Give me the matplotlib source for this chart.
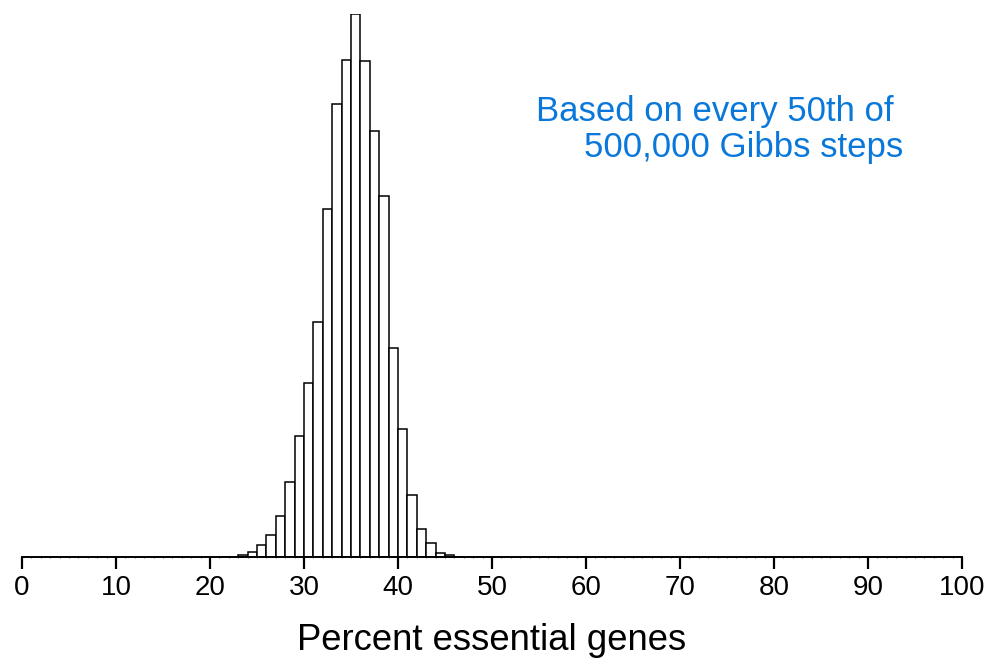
import matplotlib
matplotlib.use("Agg")
import matplotlib.pyplot as plt
from matplotlib.ticker import MultipleLocator

plt.rcParams["font.family"] = ["Liberation Sans", "DejaVu Sans"]

# Histogram of sampled percentages (bin left edges, width 1)
bin_left = list(range(21, 47))
counts = [1, 1, 5, 11, 28, 52, 97, 175, 283, 409, 551, 817, 1064,
          1167, 1275, 1164, 1000, 848, 491, 300, 145, 66, 34, 9, 4, 1]

x_ticks = list(range(0, 101, 10))
x_label = "Percent essential genes"
note = "Based on every 50th of \n500,000 Gibbs steps"

fig = plt.figure(figsize=(9.91, 6.62), dpi=100)
ax = fig.add_axes([22 / 991, 1 - 557 / 662, 940 / 991, 543 / 662])

ax.bar(bin_left, counts, width=1, align="edge",
       facecolor="white", edgecolor="black", linewidth=1.1)

ax.set_xlim(0, 100)
ax.set_ylim(0, max(counts))

for side in ("top", "right", "left"):
    ax.spines[side].set_visible(False)
ax.spines["bottom"].set_linewidth(1.4)
ax.spines["bottom"].set_zorder(3)
ax.set_yticks([])

ax.set_xticks(x_ticks)
ax.xaxis.set_minor_locator(MultipleLocator(1))
ax.tick_params(axis="x", which="major", length=8.5, width=1.6,
               labelsize=20, pad=4.5)
ax.tick_params(axis="x", which="minor", length=0.9, width=0.6,
               color="#555555")

ax.set_xlabel(x_label, fontsize=26.3, labelpad=16)

fig.text(903 / 991, 1 - 95 / 662, note, ha="right", va="top",
         multialignment="right", fontsize=25, color="#0a78da",
         linespacing=1.1)

fig.savefig("out.png", dpi=100)
